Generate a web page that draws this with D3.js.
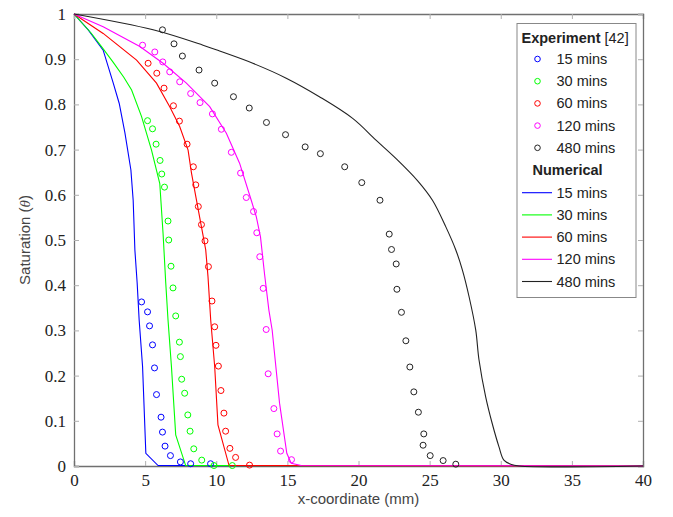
<!DOCTYPE html>
<html>
 <head>
 <title>Saturation profiles</title>
 <meta charset="UTF-8">
 <style type="text/css">
   body { margin: 0; background: #fff; }
   .legend text { font-family: "Liberation Sans", Arial, sans-serif; font-size: 14.5px; fill: #222; }
 </style>
 <script src="https://d3js.org/d3.v7.min.js"></script>
 </head>
 <body>
 <script type="text/javascript">

  // time labels shared by both series groups
  var times = ["15 mins", "30 mins", "60 mins", "120 mins", "480 mins"];
  var colors = ["#0000ff", "#00ff00", "#ff0000", "#ff00ff", "#222222"];

  var xTicks = [0, 5, 10, 15, 20, 25, 30, 35, 40];
  var yTicks = [0, 0.1, 0.2, 0.3, 0.4, 0.5, 0.6, 0.7, 0.8, 0.9, 1];

  // experiment [42]: [x (mm), saturation]
  var exp15 = [[4.75,0.363],[5.17,0.341],[5.31,0.310],[5.52,0.268],[5.66,0.217],[5.80,0.158],
    [6.12,0.108],[6.22,0.075],[6.40,0.044],[6.78,0.023],[7.48,0.009],[8.2,0.005],[9.6,0.005]];
  var exp30 = [[5.17,0.764],[5.52,0.746],[5.77,0.712],[6.05,0.676],[6.17,0.646],[6.36,0.617],
    [6.61,0.542],[6.66,0.500],[6.82,0.442],[6.96,0.394],[7.15,0.332],[7.41,0.274],[7.48,0.242],
    [7.57,0.192],[7.78,0.161],[8.0,0.113],[8.16,0.077],[8.42,0.038],[8.98,0.013],[9.84,0.001],[11.13,0.001]];
  var exp60 = [[5.21,0.891],[5.82,0.869],[6.33,0.836],[6.99,0.797],[7.41,0.763],[7.95,0.712],
    [8.39,0.662],[8.56,0.622],[8.74,0.574],[8.96,0.534],[9.21,0.498],[9.45,0.441],[9.70,0.365],
    [9.89,0.308],[9.98,0.267],[10.15,0.221],[10.33,0.167],[10.54,0.117],[10.66,0.077],[10.96,0.039],
    [11.36,0.019],[12.34,0.002]];
  var exp120 = [[4.82,0.931],[5.68,0.916],[6.24,0.894],[6.73,0.872],[7.43,0.850],[8.20,0.824],
    [8.86,0.804],[9.73,0.779],[10.36,0.745],[11.06,0.694],[11.71,0.648],[12.11,0.594],[12.62,0.563],
    [12.85,0.516],[13.06,0.463],[13.30,0.393],[13.51,0.302],[13.65,0.204],[14.05,0.127],[14.28,0.071],
    [14.52,0.033],[15.29,0.014]];
  var exp480 = [[6.22,0.965],[7.03,0.934],[7.62,0.907],[8.79,0.876],[9.89,0.847],[11.21,0.817],
    [12.32,0.792],[13.53,0.760],[14.87,0.733],[16.25,0.706],[17.32,0.691],[19.03,0.662],[20.23,0.627],
    [21.51,0.588],[22.16,0.513],[22.32,0.479],[22.65,0.447],[22.70,0.391],[23.02,0.340],[23.33,0.277],
    [23.61,0.219],[23.89,0.164],[24.21,0.119],[24.59,0.071],[24.54,0.046],[25.04,0.023],[25.95,0.012],
    [26.84,0.004]];

  // numerical results
  var num15 = [[0,1],[1.0,0.965],[2.05,0.920],[2.76,0.847],[3.18,0.802],[3.58,0.737],[4.0,0.655],
    [4.16,0.588],[4.28,0.478],[4.44,0.405],[4.58,0.323],[4.82,0.220],[5.05,0.028],[5.91,0.001],[40,0]];
  var num30 = [[0,1],[1.2,0.958],[2.0,0.925],[2.76,0.893],[3.5,0.860],[4.05,0.832],[4.75,0.773],[5.45,0.699],[6.03,0.625],
    [6.26,0.515],[6.45,0.405],[6.61,0.323],[6.85,0.220],[7.15,0.069],[7.85,0.001],[40,0]];
  var num60 = [[0,1],[2.05,0.957],[4.40,0.898],[5.80,0.847],[6.73,0.795],[7.43,0.751],[8.02,0.699],
    [8.26,0.648],[8.61,0.588],[8.96,0.529],[9.26,0.478],[9.42,0.419],[9.61,0.323],[9.89,0.220],
    [10.12,0.091],[10.9,0.001],[40,0]];
  var num120 = [[0,1],[2.05,0.972],[4.63,0.928],[6.26,0.891],[7.90,0.847],[9.54,0.795],[10.71,0.736],
    [11.64,0.670],[12.46,0.588],[12.81,0.552],[13.11,0.507],[13.39,0.426],[13.70,0.345],[13.93,0.301],
    [14.45,0.139],[14.96,0.028],[15.27,0.006],[15.97,0.001],[40,0]];
  var num480 = [[0,1],[5.56,0.965],[9.07,0.931],[10.24,0.918],[12.57,0.891],[14.92,0.858],[17.25,0.817],
    [19.59,0.769],[21.23,0.721],[22.68,0.679],[24.16,0.631],[25.20,0.588],[26.14,0.529],[26.84,0.478],
    [27.30,0.434],[27.77,0.375],[28.24,0.301],[28.47,0.235],[28.94,0.153],[29.40,0.094],[29.87,0.043],
    [30.22,0.013],[30.69,0.004],[31.3,0],[40,0]];

  var expData = [exp15, exp30, exp60, exp120, exp480];
  var numData = [num15, num30, num60, num120, num480];

  var margin = {top: 14, right: 30, bottom: 51, left: 74},
      width = 673 - margin.left - margin.right,
      height = 517 - margin.top - margin.bottom;

  var x = d3.scaleLinear().domain([0, 40]).range([0, width]);
  var y = d3.scaleLinear().domain([0, 1]).range([height, 0]);

  var svg = d3.select("body")
      .append("svg")
      .attr("width", 673)
      .attr("height", 517)
      .append("g")
      .attr("transform", "translate(" + margin.left + "," + margin.top + ")");

  // axes, ticks pointing inwards on all four sides
  var yFmt = function(d) { return (d === 0 || d === 1) ? d : d.toFixed(1); };

  var gx = svg.append("g")
      .attr("transform", "translate(0," + height + ")")
      .call(d3.axisBottom(x).tickValues(xTicks).tickSize(-5).tickPadding(8));
  var gy = svg.append("g")
      .call(d3.axisLeft(y).tickValues(yTicks).tickSize(-5).tickPadding(8).tickFormat(yFmt));
  svg.append("g")
      .call(d3.axisTop(x).tickValues(xTicks).tickSize(-5).tickFormat(""));
  svg.append("g")
      .attr("transform", "translate(" + width + ",0)")
      .call(d3.axisRight(y).tickValues(yTicks).tickSize(-5).tickFormat(""));

  [gx, gy].forEach(function(g) {
    g.attr("font-family", "Liberation Serif").attr("font-size", 17);
  });

  svg.selectAll(".domain").attr("stroke", "#707070").attr("stroke-width", 1.3);
  svg.selectAll(".tick line").attr("stroke", "#b0b0b0");
  svg.selectAll(".tick text").attr("fill", "#222");

  // numerical lines
  var line = d3.line()
      .x(function(d) { return x(d[0]); })
      .y(function(d) { return y(d[1]); });
  var smooth = d3.line()
      .curve(d3.curveCatmullRom.alpha(0.5))
      .x(function(d) { return x(d[0]); })
      .y(function(d) { return y(d[1]); });

  numData.forEach(function(s, i) {
    svg.append("path")
        .attr("d", i === 4 ? smooth(s) : line(s))
        .attr("fill", "none")
        .attr("stroke", colors[i])
        .attr("stroke-width", 1.1);
  });

  // experiment markers
  expData.forEach(function(s, i) {
    svg.append("g").selectAll("circle")
        .data(s)
        .enter().append("circle")
        .attr("cx", function(d) { return x(d[0]); })
        .attr("cy", function(d) { return y(d[1]); })
        .attr("r", 3)
        .attr("fill", "none")
        .attr("stroke", colors[i])
        .attr("stroke-width", 1);
  });

  // axis titles
  svg.append("text")
      .attr("x", width / 2)
      .attr("y", height + 38)
      .attr("text-anchor", "middle")
      .attr("font-family", "Liberation Sans, Arial, sans-serif")
      .attr("font-size", 15)
      .attr("fill", "#444")
      .text("x-coordinate (mm)");

  var yt = svg.append("text")
      .attr("transform", "translate(-44," + (height / 2) + ") rotate(-90)")
      .attr("text-anchor", "middle")
      .attr("font-family", "Liberation Sans, Arial, sans-serif")
      .attr("font-size", 15)
      .attr("fill", "#444");
  yt.append("tspan").text("Saturation (");
  yt.append("tspan").attr("font-style", "italic").attr("font-family", "Liberation Serif, serif").text("\u03b8");
  yt.append("tspan").text(")");

  // legend
  var lg = svg.append("g").attr("class", "legend")
      .attr("transform", "translate(" + (517 - margin.left) + "," + (23.5 - margin.top) + ")");
  lg.append("rect")
      .attr("width", 119).attr("height", 274)
      .attr("fill", "#fff").attr("stroke", "#888").attr("stroke-width", 1);

  var h1 = lg.append("text").attr("x", 4.5).attr("y", 19);
  h1.append("tspan").attr("font-weight", "bold").text("Experiment");
  h1.append("tspan").text(" [42]");

  times.forEach(function(t, i) {
    var cy = 35.5 + i * 22.2;
    lg.append("circle").attr("cx", 20.5).attr("cy", cy).attr("r", 2.8)
        .attr("fill", "none").attr("stroke", colors[i]).attr("stroke-width", 1);
    lg.append("text").attr("x", 39.5).attr("y", cy + 5).text(t);
  });

  lg.append("text").attr("x", 15.5).attr("y", 151.5).attr("font-weight", "bold").text("Numerical");

  times.forEach(function(t, i) {
    var cy = 169.2 + i * 22.2;
    lg.append("line").attr("x1", 5).attr("x2", 35).attr("y1", cy).attr("y2", cy)
        .attr("stroke", colors[i]).attr("stroke-width", 1.1);
    lg.append("text").attr("x", 39.5).attr("y", cy + 5).text(t);
  });

 </script>
 </body>
</html>
